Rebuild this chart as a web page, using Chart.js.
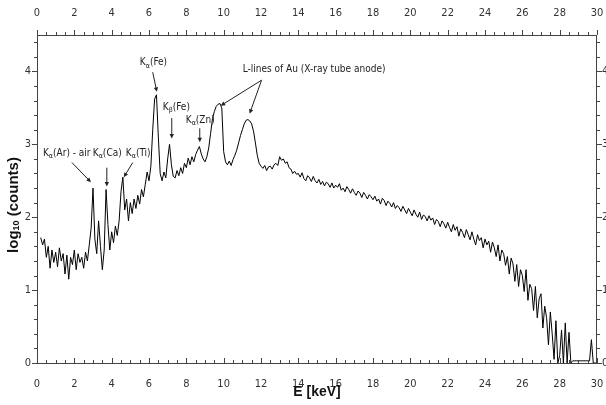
<!DOCTYPE html>
<html>
<head>
<meta charset="utf-8">
<script src="https://cdn.jsdelivr.net/npm/chart.js@4.4.1/dist/chart.umd.min.js"></script>
<style>
  html, body { margin: 0; padding: 0; background: #fff; }
  #wrap { width: 606px; height: 405px; }
</style>
</head>
<body>
<div id="wrap"><canvas id="spectrum"></canvas></div>
<script>
// spectrum, one value per 0.1 keV starting at 0.2 keV
const E_START = 0.2;
const E_STEP = 0.1;
const logCounts = [
  1.72, 1.62, 1.70, 1.45, 1.60, 1.30, 1.55, 1.38,                   // 0.2 - 0.9
  1.52, 1.32, 1.58, 1.40, 1.50, 1.22, 1.48, 1.15, 1.45, 1.35,       // 1.0
  1.55, 1.28, 1.50, 1.38, 1.45, 1.30, 1.52, 1.40, 1.62, 1.85,       // 2.0
  2.40, 1.70, 1.50, 1.95, 1.60, 1.28, 1.55, 2.38, 1.90, 1.55,       // 3.0
  1.80, 1.65, 1.88, 1.75, 1.95, 2.35, 2.55, 2.10, 2.25, 1.95,       // 4.0
  2.20, 2.05, 2.25, 2.12, 2.30, 2.18, 2.38, 2.28, 2.45, 2.62,       // 5.0
  2.50, 2.70, 3.20, 3.62, 3.68, 3.10, 2.60, 2.50, 2.62, 2.54,       // 6.0
  2.80, 3.00, 2.72, 2.56, 2.54, 2.64, 2.57, 2.68, 2.60, 2.74,       // 7.0
  2.68, 2.81, 2.72, 2.83, 2.76, 2.86, 2.92, 2.97, 2.87, 2.80,       // 8.0
  2.76, 2.83, 2.95, 3.15, 3.35, 3.45, 3.52, 3.55, 3.56, 3.50,       // 9.0
  2.90, 2.76, 2.72, 2.77, 2.71, 2.79, 2.85, 2.92, 3.02, 3.12,       // 10.0
  3.20, 3.28, 3.33, 3.34, 3.32, 3.28, 3.18, 3.02, 2.85, 2.74,       // 11.0
  2.70, 2.67, 2.71, 2.64, 2.69, 2.70, 2.66, 2.72, 2.74, 2.71,       // 12.0
  2.83, 2.78, 2.80, 2.74, 2.76, 2.68, 2.66, 2.60, 2.63, 2.59,       // 13.0
  2.60, 2.55, 2.61, 2.53, 2.50, 2.57, 2.54, 2.49, 2.56, 2.50,       // 14.0
  2.47, 2.52, 2.45, 2.49, 2.43, 2.48, 2.46, 2.41, 2.47, 2.40,       // 15.0
  2.44, 2.41, 2.46, 2.37, 2.40, 2.35, 2.42, 2.38, 2.33, 2.39,       // 16.0
  2.34, 2.30, 2.36, 2.33, 2.27, 2.34, 2.30, 2.25, 2.31, 2.28,       // 17.0
  2.24, 2.29, 2.22, 2.25, 2.18, 2.26, 2.23, 2.16, 2.22, 2.19,       // 18.0
  2.14, 2.20, 2.12, 2.16, 2.13, 2.08, 2.15, 2.10, 2.05, 2.12,       // 19.0
  2.07, 2.02, 2.10, 2.04, 2.00, 2.07, 1.97, 2.03, 2.01, 1.95,       // 20.0
  2.02, 1.96, 1.99, 1.90, 1.97, 1.94, 1.87, 1.95, 1.91, 1.85,       // 21.0
  1.93, 1.86, 1.80, 1.90, 1.82, 1.87, 1.74, 1.84, 1.79, 1.72,       // 22.0
  1.83, 1.76, 1.69, 1.80, 1.70, 1.62, 1.76, 1.68, 1.72, 1.58,       // 23.0
  1.70, 1.62, 1.67, 1.52, 1.66, 1.58, 1.46, 1.62, 1.40, 1.55,       // 24.0
  1.50, 1.34, 1.46, 1.22, 1.44, 1.36, 1.12, 1.35, 1.05, 1.28,       // 25.0
  1.20, 0.98, 1.28, 0.86, 1.08, 1.02, 0.72, 1.05, 0.62, 0.88,       // 26.0
  0.95, 0.48, 0.78, 0.62, 0.25, 0.70, 0.40, 0.05, 0.58, 0.00,       // 27.0
  0.10, 0.45, 0.00, 0.55, 0.00, 0.42, 0.00, 0.03, 0.03, 0.03,       // 28.0
  0.03, 0.03, 0.03, 0.03, 0.03, 0.03, 0.03, 0.32, 0.00, 0.00,       // 29.0
  0.00                                                              // 30.0
];
const energies = logCounts.map((_, i) => +(E_START + i * E_STEP).toFixed(1));

const xRange = [0, 30];
const yRange = [0, 4.5];
const yTickLabels = [0, 1, 2, 3, 4];

// peak labels: K + subscript line + element, anchored in data units
const peakNotes = [
  { sub: 'α', el: '(Ar) - air', at: [0.32, 2.88], from: [1.87, 2.75], to: [2.89, 2.48] },
  { sub: 'α', el: '(Ca)',       at: [2.99, 2.88], from: [3.74, 2.68], to: [3.74, 2.42] },
  { sub: 'α', el: '(Ti)',       at: [4.76, 2.88], from: [5.13, 2.75], to: [4.65, 2.55] },
  { sub: 'α', el: '(Fe)',       at: [5.51, 4.12], from: [6.20, 3.99], to: [6.42, 3.72] },
  { sub: 'β', el: '(Fe)',       at: [6.74, 3.51], from: [7.22, 3.36], to: [7.22, 3.08] },
  { sub: 'α', el: '(Zn)',       at: [7.97, 3.33], from: [8.72, 3.22], to: [8.72, 3.03] }
];
const auNote = {
  text: 'L-lines of Au (X-ray tube anode)',
  at: [11.02, 4.03],
  from: [12.03, 3.88],
  to: [[9.84, 3.53], [11.39, 3.42]]
};

const NARROW = "'Liberation Sans Narrow', 'DejaVu Sans Condensed', 'Liberation Sans', sans-serif";
const INK = '#222';

function arrow(ctx, x1, y1, x2, y2) {
  const ang = Math.atan2(y2 - y1, x2 - x1);
  const h = 5;
  ctx.beginPath();
  ctx.moveTo(x1, y1);
  ctx.lineTo(x2 - Math.cos(ang) * 3, y2 - Math.sin(ang) * 3);
  ctx.stroke();
  ctx.beginPath();
  ctx.moveTo(x2, y2);
  ctx.lineTo(x2 - h * Math.cos(ang - 0.45), y2 - h * Math.sin(ang - 0.45));
  ctx.lineTo(x2 - h * Math.cos(ang + 0.45), y2 - h * Math.sin(ang + 0.45));
  ctx.closePath();
  ctx.fill();
}

const frame = {
  id: 'frame',
  afterDraw(chart) {
    const { ctx, chartArea: a, scales } = chart;
    const sx = scales.x, sy = scales.y;
    ctx.save();
    ctx.strokeStyle = '#444';
    ctx.lineWidth = 1;
    ctx.strokeRect(a.left + 0.5, a.top + 0.5, a.right - a.left - 1, a.bottom - a.top);

    // tick marks: x every 0.5 (major 2), y every 0.2 (major 1)
    ctx.beginPath();
    for (let k = 0; k <= 60; k++) {
      const len = k % 4 === 0 ? 5 : 3;
      const px = Math.round(sx.getPixelForValue(k * 0.5)) + 0.5;
      ctx.moveTo(px, a.bottom); ctx.lineTo(px, a.bottom - len);
      ctx.moveTo(px, a.top); ctx.lineTo(px, a.top - len);
    }
    for (let k = 0; k <= 22; k++) {
      const len = k % 5 === 0 ? 5 : 3;
      const py = Math.round(sy.getPixelForValue(k * 0.2)) + 0.5;
      ctx.moveTo(a.left, py); ctx.lineTo(a.left - len, py);
      ctx.moveTo(a.right, py); ctx.lineTo(a.right + len, py);
    }
    ctx.stroke();

    // y tick labels, both sides
    ctx.fillStyle = '#333';
    ctx.font = '11px ' + NARROW;
    ctx.textBaseline = 'middle';
    yTickLabels.forEach(v => {
      const py = sy.getPixelForValue(v);
      ctx.textAlign = 'right';
      ctx.fillText(String(v), a.left - 6, py);
      ctx.textAlign = 'left';
      ctx.fillText(String(v), a.right + 5, py);
    });

    // axis titles
    ctx.fillStyle = '#111';
    ctx.font = "bold 14px 'Liberation Sans', sans-serif";
    ctx.textAlign = 'center';
    ctx.fillText('E [keV]', (a.left + a.right) / 2, 392);

    ctx.save();
    ctx.translate(14, 205);
    ctx.rotate(-Math.PI / 2);
    const p1 = 'log', p2 = '10', p3 = ' (counts)';
    ctx.font = "bold 15px 'Liberation Sans', sans-serif";
    const w1 = ctx.measureText(p1).width, w3 = ctx.measureText(p3).width;
    ctx.font = "bold 9px 'Liberation Sans', sans-serif";
    const w2 = ctx.measureText(p2).width;
    let x0 = -(w1 + w2 + w3) / 2;
    ctx.textAlign = 'left';
    ctx.font = "bold 15px 'Liberation Sans', sans-serif";
    ctx.fillText(p1, x0, 0);
    ctx.font = "bold 9px 'Liberation Sans', sans-serif";
    ctx.fillText(p2, x0 + w1, 3);
    ctx.font = "bold 15px 'Liberation Sans', sans-serif";
    ctx.fillText(p3, x0 + w1 + w2, 0);
    ctx.restore();

    // peak annotations
    ctx.fillStyle = INK;
    ctx.strokeStyle = INK;
    ctx.textAlign = 'left';
    ctx.textBaseline = 'middle';
    const P = (d) => [sx.getPixelForValue(d[0]), sy.getPixelForValue(d[1])];
    peakNotes.forEach(n => {
      let [x, y] = P(n.at);
      ctx.font = '10px ' + NARROW;
      ctx.fillText('K', x, y);
      x += ctx.measureText('K').width;
      ctx.font = '7px ' + NARROW;
      ctx.fillText(n.sub, x, y + 3);
      x += ctx.measureText(n.sub).width;
      ctx.font = '10px ' + NARROW;
      ctx.fillText(n.el, x, y);
      const [fx, fy] = P(n.from), [tx, ty] = P(n.to);
      arrow(ctx, fx, fy, tx, ty);
    });
    {
      const [x, y] = P(auNote.at);
      ctx.font = '10px ' + NARROW;
      ctx.fillText(auNote.text, x, y);
      const [fx, fy] = P(auNote.from);
      auNote.to.forEach(t => {
        const [tx, ty] = P(t);
        arrow(ctx, fx, fy, tx, ty);
      });
    }
    ctx.restore();
  }
};

const tickFont = { family: NARROW, size: 11 };
const fixSize = (prop, v) => s => {
  s[prop] = v;
  s.paddingLeft = 0; s.paddingRight = 0; s.paddingTop = 0; s.paddingBottom = 0;
};

new Chart(document.getElementById('spectrum'), {
  type: 'line',
  data: {
    datasets: [{
      data: energies.map((e, i) => ({ x: e, y: logCounts[i] })),
      borderColor: '#000',
      borderWidth: 1,
      pointRadius: 0,
      tension: 0,
      fill: false
    }]
  },
  options: {
    responsive: true,
    maintainAspectRatio: false,
    animation: false,
    devicePixelRatio: 1,
    layout: { padding: 0 },
    plugins: { legend: { display: false }, tooltip: { enabled: false } },
    scales: {
      x: {
        type: 'linear', position: 'bottom', min: xRange[0], max: xRange[1],
        grid: { display: false }, border: { display: false },
        ticks: { stepSize: 2, color: '#333', font: tickFont, padding: 7, maxRotation: 0, autoSkip: false },
        afterFit: fixSize('height', 42)
      },
      x2: {
        type: 'linear', position: 'top', min: xRange[0], max: xRange[1],
        grid: { display: false }, border: { display: false },
        ticks: { stepSize: 2, color: '#333', font: tickFont, padding: 7, maxRotation: 0, autoSkip: false },
        afterFit: fixSize('height', 35)
      },
      y: {
        type: 'linear', position: 'left', min: yRange[0], max: yRange[1],
        grid: { display: false }, border: { display: false },
        ticks: { display: false },
        afterFit: fixSize('width', 37)
      },
      y2: {
        type: 'linear', position: 'right', min: yRange[0], max: yRange[1],
        grid: { display: false }, border: { display: false },
        ticks: { display: false },
        afterFit: fixSize('width', 9)
      }
    }
  },
  plugins: [frame]
});
</script>
</body>
</html>
